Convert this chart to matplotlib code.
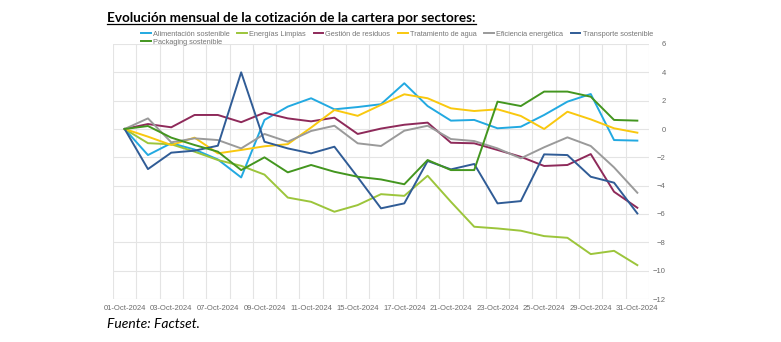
import matplotlib
matplotlib.use('Agg')
import matplotlib.pyplot as plt
from matplotlib.lines import Line2D
import numpy as np

# dias habiles de octubre 2024
fechas = ['01-Oct-2024', '02-Oct-2024', '03-Oct-2024', '04-Oct-2024', '07-Oct-2024',
          '08-Oct-2024', '09-Oct-2024', '10-Oct-2024', '11-Oct-2024', '14-Oct-2024',
          '15-Oct-2024', '16-Oct-2024', '17-Oct-2024', '18-Oct-2024', '21-Oct-2024',
          '22-Oct-2024', '23-Oct-2024', '24-Oct-2024', '25-Oct-2024', '28-Oct-2024',
          '29-Oct-2024', '30-Oct-2024', '31-Oct-2024']

alimentacion = [0, -1.84, -1.0, -1.45, -2.15, -3.42, 0.64, 1.58, 2.17, 1.39, 1.55, 1.75,
                3.23, 1.62, 0.59, 0.64, 0.05, 0.16, 0.99, 1.93, 2.47, -0.78, -0.82]
energias = [0, -1.0, -1.08, -1.6, -2.19, -2.6, -3.22, -4.84, -5.14, -5.84, -5.37, -4.6,
            -4.72, -3.3, -5.14, -6.9, -7.02, -7.18, -7.56, -7.68, -8.83, -8.6, -9.61]
residuos = [0, 0.35, 0.12, 0.99, 0.99, 0.48, 1.15, 0.75, 0.54, 0.8, -0.35, 0.03,
            0.3, 0.45, -0.97, -1.01, -1.48, -1.96, -2.61, -2.54, -1.77, -4.43, -5.56]
agua = [0, -0.54, -1.13, -0.61, -1.72, -1.48, -1.22, -1.07, 0.1, 1.34, 0.93, 1.7,
        2.45, 2.17, 1.46, 1.27, 1.39, 0.92, 0.0, 1.22, 0.68, 0.05, -0.26]
eficiencia = [0, 0.75, -0.94, -0.66, -0.78, -1.37, -0.35, -0.9, -0.14, 0.23, -1.01, -1.2,
              -0.12, 0.23, -0.71, -0.85, -1.37, -2.07, -1.29, -0.59, -1.2, -2.71, -4.5]
transporte = [0, -2.83, -1.67, -1.53, -1.18, 4.0, -0.9, -1.37, -1.72, -1.25, -3.4, -5.6,
              -5.25, -2.26, -2.85, -2.47, -5.25, -5.09, -1.79, -1.84, -3.37, -3.79, -5.96]
packaging = [0, 0.21, -0.61, -1.13, -1.6, -2.9, -2.0, -3.06, -2.54, -3.02, -3.37, -3.56,
             -3.9, -2.19, -2.9, -2.9, 1.93, 1.62, 2.64, 2.64, 2.28, 0.64, 0.59]

series = [
    ('Alimentación sostenible', alimentacion, '#22A9E1'),
    ('Energías Limpias', energias, '#9CC53B'),
    ('Gestión de residuos', residuos, '#8E2A5A'),
    ('Tratamiento de agua', agua, '#F9C80E'),
    ('Eficiencia energética', eficiencia, '#9A9A9A'),
    ('Transporte sostenible', transporte, '#305C96'),
    ('Packaging sostenible', packaging, '#43961F'),
]

W, H = 781, 342
fig = plt.figure(figsize=(W / 100, H / 100), dpi=100)
ax = fig.add_axes([113 / W, 1 - 299 / H, 536 / W, 255 / H])

x = np.arange(len(fechas))
lineas = {}
for nombre, valores, color in series:
    lineas[nombre], = ax.plot(x, valores, color=color, lw=1.4, label=nombre)

ax.set_xlim(-0.5, len(fechas) - 0.5)
ax.set_ylim(-12, 6)
ax.set_yticks(np.arange(-12, 7, 2))
ax.set_xticks(x[::2])
ax.set_xticklabels(fechas[::2])
ax.set_xticks(np.arange(-0.5, len(fechas)), minor=True)
ax.grid(which='minor', axis='x', color='#e4e4e4', lw=0.8)
ax.grid(which='major', axis='y', color='#e4e4e4', lw=0.8)
ax.grid(which='major', axis='x', visible=False)
ax.set_axisbelow(True)
ax.yaxis.tick_right()
ax.tick_params(which='both', length=0, labelsize=5.5, labelcolor='#6b6b6b')
ax.tick_params(axis='x', pad=4)
ax.tick_params(axis='y', pad=12)
for lab in ax.get_yticklabels():
    lab.set_ha('right')
for lab in ax.get_xticklabels() + ax.get_yticklabels():
    lab.set_family('Liberation Sans')
for s in ax.spines.values():
    s.set_visible(False)

# leyenda: orden por columnas para que Packaging quede en la segunda fila
orden = ['Alimentación sostenible', 'Packaging sostenible', 'Energías Limpias',
         'Gestión de residuos', 'Tratamiento de agua', 'Eficiencia energética',
         'Transporte sostenible']
fig.legend([lineas[n] for n in orden], orden, loc='upper left',
           bbox_to_anchor=(141 / W, 1 - 30.5 / H), ncol=6, frameon=False,
           prop={'family': 'Liberation Sans', 'size': 5.3},
           labelcolor='#777777', handlelength=1.3, handletextpad=0.3,
           columnspacing=1.05, labelspacing=0.15, borderpad=0, borderaxespad=0)

titulo = fig.text(107 / W, 1 - 21.5 / H,
                  'Evolución mensual de la cotización de la cartera por sectores:',
                  family='Lato', fontweight='bold', fontsize=9.75, va='baseline')
fig.text(107 / W, 1 - 328 / H, 'Fuente: Factset.', family='Lato', style='italic',
         fontsize=10, va='baseline')

fig.canvas.draw()
bb = titulo.get_window_extent()
fig.add_artist(Line2D([bb.x0 / W, bb.x1 / W], [1 - 24 / H, 1 - 24 / H],
                      transform=fig.transFigure, color='black', lw=0.9))

fig.savefig('out.png', dpi=100)
